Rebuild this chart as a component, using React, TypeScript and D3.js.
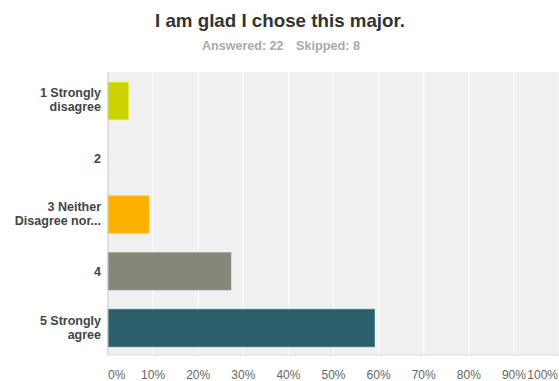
import React from "react";
import * as d3 from "d3";

const categories: string[][] = [
  ["1 Strongly", "disagree"],
  ["2"],
  ["3 Neither", "Disagree nor..."],
  ["4"],
  ["5 Strongly", "agree"],
];
const values: number[] = [4.55, 0, 9.09, 27.27, 59.09];
const colors: string[] = ["#cbd400", "#cccccc", "#fcb100", "#85877a", "#2c5f6c"];
const ticks: number[] = [0, 10, 20, 30, 40, 50, 60, 70, 80, 90, 100];
const title = "I am glad I chose this major.";
const subtitle = ["Answered: 22", "Skipped: 8"];

export default function App() {
  const W = 559, H = 381;
  const left = 108, right = 559, top = 72, bottom = 355;
  const x = d3.scaleLinear().domain([0, 100]).range([left, right]);
  const y = d3.scaleBand<number>().domain(d3.range(categories.length)).range([72.6, 356.4]).paddingInner(0.34).paddingOuter(0.17);
  const font = "Liberation Sans, Arial, Helvetica, sans-serif";
  return (
    <svg width={W} height={H} style={{ position: "absolute", left: 0, top: 0 }} fontFamily={font}>
      <rect width={W} height={H} fill="#fff" />
      <text x={155} y={26.5} fontSize={17.8} fontWeight="bold" fill="#333" textLength={250} lengthAdjust="spacingAndGlyphs">{title}</text>
      <text x={202} y={49.5} fontSize={12} fontWeight="bold" fill="#aaa" textLength={81.5} lengthAdjust="spacingAndGlyphs">{subtitle[0]}</text>
      <text x={296} y={49.5} fontSize={12} fontWeight="bold" fill="#aaa" textLength={64} lengthAdjust="spacingAndGlyphs">{subtitle[1]}</text>
      <rect x={left} y={top} width={right - left} height={bottom - top} fill="#f0f0f0" />
      {ticks.slice(1).map((t) => (
        <line key={t} x1={x(t)} x2={x(t)} y1={top} y2={bottom} stroke="#fff" strokeWidth={1} />
      ))}
      {values.map((v, i) =>
        v > 0 ? (
          <rect key={i} x={x(0)} y={y(i)!} width={x(v) - x(0)} height={y.bandwidth()} fill={colors[i]}
            stroke={d3.color(colors[i])!.brighter(0.4).toString()} strokeOpacity={0.6} strokeWidth={1} />
        ) : null
      )}
      <line x1={left} x2={left} y1={top} y2={bottom} stroke="#c8c8c8" />
      <line x1={left} x2={right} y1={bottom} y2={bottom} stroke="#dcdcdc" />
      {categories.map((lines, i) => {
        const cy = y(i)! + y.bandwidth() / 2;
        const lh = 14;
        const k = lines.length === 1 ? 5 : 3.5;
        const y0 = cy - ((lines.length - 1) * lh) / 2 + k;
        return (
          <text key={i} x={101} textAnchor="end" fontSize={12.5} fontWeight="bold" fill="#444">
            {lines.map((l, j) => (
              <tspan key={j} x={101} y={y0 + j * lh}>{l}</tspan>
            ))}
          </text>
        );
      })}
      {ticks.map((t, i) => (
        <text key={t} x={i === 0 ? left : i === ticks.length - 1 ? 558 : x(t)} y={379}
          textAnchor={i === 0 ? "start" : i === ticks.length - 1 ? "end" : "middle"}
          fontSize={12} fill="#666">{t}%</text>
      ))}
    </svg>
  );
}
